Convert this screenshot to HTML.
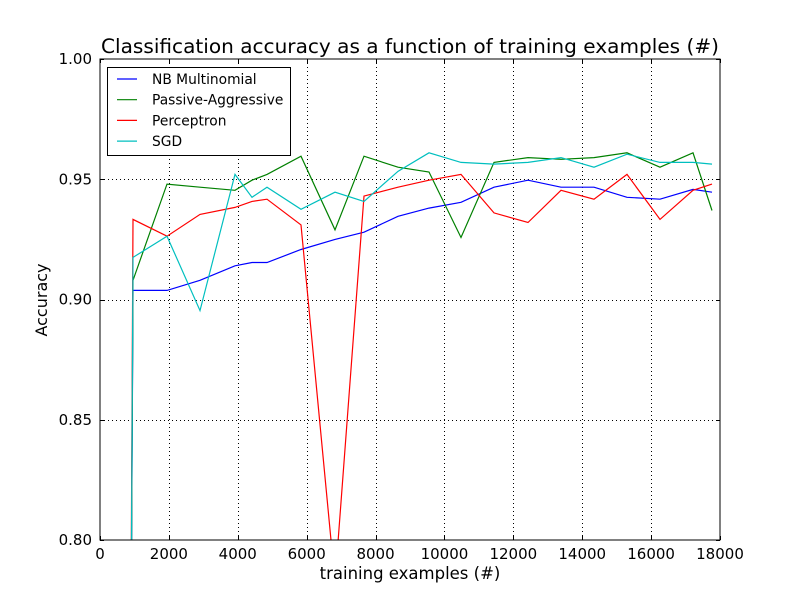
<!DOCTYPE html>
<html><head><meta charset="utf-8"><style>
html,body{margin:0;padding:0;background:#fff;overflow:hidden;width:800px;height:600px}
svg{display:block}
svg text{font-family:"DejaVu Sans","Liberation Sans",sans-serif}
</style></head><body>
<svg id="chart" width="800" height="600" xmlns="http://www.w3.org/2000/svg">
<rect width="800" height="600" fill="#fff"/>
<defs><clipPath id="plotclip"><rect x="100" y="59" width="620" height="481"/></clipPath></defs>
<g id="grid"></g>
<g id="series" clip-path="url(#plotclip)"></g>
<rect x="100" y="59" width="620" height="481" fill="none" stroke="#000" stroke-width="1"/>
<g id="ticks"></g>
<text x="410" y="53" text-anchor="middle" font-size="19.5" textLength="618" lengthAdjust="spacingAndGlyphs">Classification accuracy as a function of training examples (#)</text>
<text x="410" y="579" text-anchor="middle" font-size="16.5">training examples (#)</text>
<text x="47" y="300" text-anchor="middle" font-size="16" transform="rotate(-90 47 300)">Accuracy</text>
<g id="legend">
<rect x="107.5" y="67.5" width="183" height="88" fill="#fff" stroke="#000"/>
</g>
</svg>
<script>
const xValues = [800, 958, 1945, 2903, 3919, 4413, 4848, 5835, 6822, 7664, 8652, 9552, 10481, 11439, 12426, 13384, 14342, 15300, 16258, 17216, 17768];
const nbValues = [0.5, 0.9038, 0.9038, 0.908, 0.914, 0.9154, 0.9154, 0.9208, 0.925, 0.928, 0.9346, 0.938, 0.9404, 0.9467, 0.9496, 0.9467, 0.9467, 0.9425, 0.9417, 0.9458, 0.9446];
const paValues = [0.5, 0.908, 0.948, 0.9467, 0.9454, 0.9496, 0.952, 0.9596, 0.929, 0.9596, 0.955, 0.953, 0.9258, 0.957, 0.959, 0.9583, 0.959, 0.961, 0.955, 0.961, 0.937];
const percValues = [0.5, 0.9333, 0.9263, 0.9354, 0.9383, 0.9408, 0.9417, 0.931, 0.7825, 0.943, 0.9467, 0.9496, 0.952, 0.936, 0.932, 0.9454, 0.9417, 0.952, 0.9333, 0.9454, 0.948];
const sgdValues = [0.5, 0.9175, 0.9263, 0.8954, 0.952, 0.9425, 0.9467, 0.9375, 0.9446, 0.9408, 0.9533, 0.961, 0.957, 0.9563, 0.957, 0.959, 0.955, 0.9604, 0.957, 0.957, 0.9563];
const seriesNames = ["NB Multinomial", "Passive-Aggressive", "Perceptron", "SGD"];
const xTicks = [0, 2000, 4000, 6000, 8000, 10000, 12000, 14000, 16000, 18000];
const yTicks = [0.80, 0.85, 0.90, 0.95, 1.00];
const NS = "http://www.w3.org/2000/svg";
const X0=100, X1=720, Y0=540, Y1=59;
function sx(v){return X0 + (v-0)/(18000-0)*(X1-X0);}
function sy(v){return Y0 - (v-0.8)/(1.0-0.8)*(Y0-Y1);}
const grid=document.getElementById('grid'), ticks=document.getElementById('ticks');
function mk(tag, attrs, parent){const e=document.createElementNS(NS,tag);for(const k in attrs)e.setAttribute(k,attrs[k]);parent.appendChild(e);return e;}
xTicks.forEach((t,i)=>{
  const x=Math.round(sx(t))+0.5;
  if(i>0&&i<xTicks.length-1){const g=mk('line',{x1:x,x2:x,y1:Y1,y2:Y0,stroke:'#000','stroke-dasharray':'1,3','stroke-width':1},grid);
  
  }
  mk('line',{x1:x,x2:x,y1:Y0,y2:Y0-4,stroke:'#000'},ticks);
  mk('line',{x1:x,x2:x,y1:Y1,y2:Y1+4,stroke:'#000'},ticks);
  const tx=mk('text',{x:sx(t),y:Y0+19,'text-anchor':'middle','font-size':15},ticks);
  tx.textContent=String(t);
  
  
});
yTicks.forEach((t,i)=>{
  const y=Math.round(sy(t))+0.5;
  if(i>0&&i<yTicks.length-1){const g=mk('line',{x1:X0,x2:X1,y1:y,y2:y,stroke:'#000','stroke-dasharray':'1,3','stroke-width':1},grid);
  
  }
  mk('line',{x1:X0,x2:X0+4,y1:y,y2:y,stroke:'#000'},ticks);
  mk('line',{x1:X1,x2:X1-4,y1:y,y2:y,stroke:'#000'},ticks);
  const tx=mk('text',{x:X0-8,y:sy(t)+5,'text-anchor':'end','font-size':15},ticks);
  tx.textContent=t.toFixed(2);
  
  
});
const allSeries=[nbValues,paValues,percValues,sgdValues];
const colors=['#0000ff','#008000','#ff0000','#00bfbf'];
const seriesNamesK=['nb-multinomial-line','passive-aggressive-line','perceptron-line','sgd-line'];
const sg=document.getElementById('series');
allSeries.forEach((vals,i)=>{
  const pts=vals.map((v,j)=>sx(xValues[j]).toFixed(1)+','+sy(v).toFixed(1)).join(' ');
  const p=mk('polyline',{points:pts,fill:'none',stroke:colors[i],'stroke-width':1.2},sg);
  
  
});
const lg=document.getElementById('legend');
seriesNames.forEach((n,i)=>{
  const y=79+i*20.7;
  const l=mk('line',{x1:117,x2:137,y1:y,y2:y,stroke:colors[i],'stroke-width':1.2},lg);
  
  
  const t=mk('text',{x:152,y:y+5,'font-size':13.8},lg);
  t.textContent=n;
  
  
});
</script>
</body></html>
